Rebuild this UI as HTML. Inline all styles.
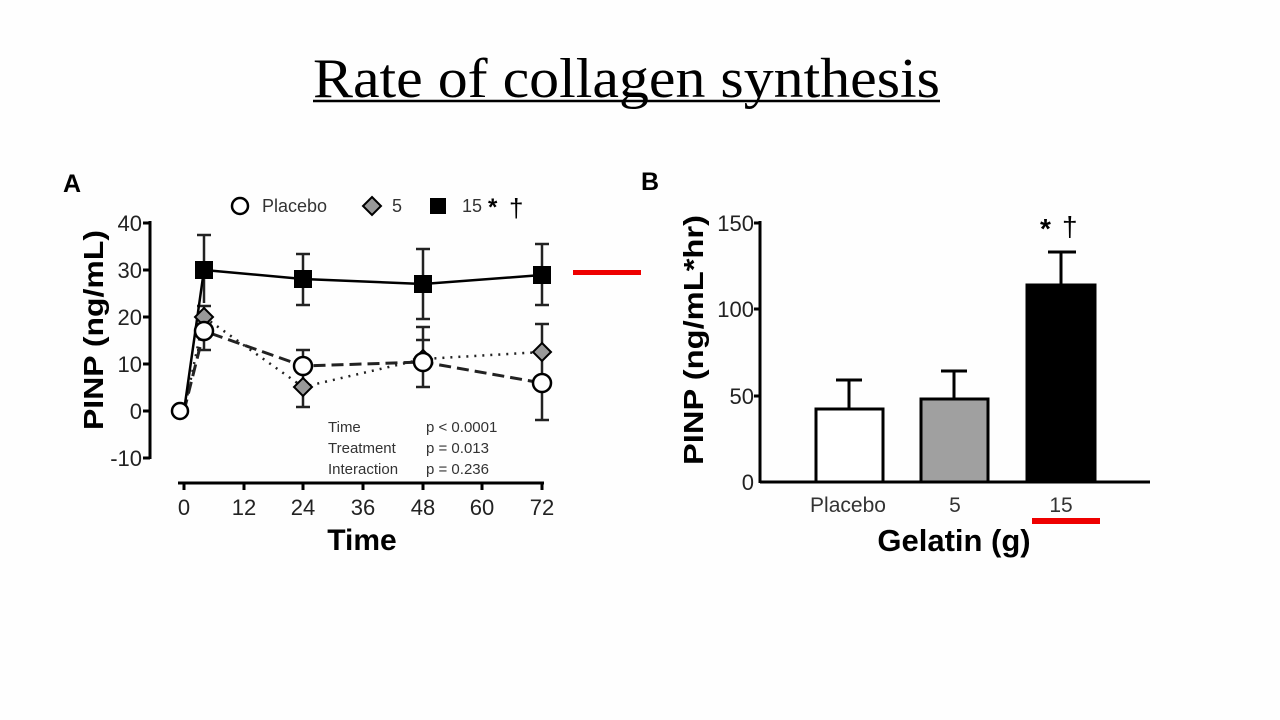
<!DOCTYPE html>
<html><head><meta charset="utf-8"><style>
body{margin:0;width:1280px;height:720px;background:#fefefe;overflow:hidden}
svg{position:absolute;left:0;top:0}
</style></head><body>
<svg width="1280" height="720" font-family="Liberation Sans, sans-serif">
<text x="313" y="97" font-family="Liberation Serif, serif" font-size="56" textLength="627" lengthAdjust="spacingAndGlyphs" fill="#000">Rate of collagen synthesis</text>
<line x1="313" y1="101" x2="940" y2="101" stroke="#000" stroke-width="2.5"/>
<!-- Chart A -->
<text x="63" y="192" font-size="25" font-weight="bold">A</text>
<g stroke="#000" stroke-width="3" fill="none">
<line x1="150" y1="221" x2="150" y2="459"/>
<line x1="143" y1="223" x2="150" y2="223"/><line x1="143" y1="270" x2="150" y2="270"/><line x1="143" y1="317" x2="150" y2="317"/><line x1="143" y1="364" x2="150" y2="364"/><line x1="143" y1="411" x2="150" y2="411"/><line x1="143" y1="458" x2="150" y2="458"/>
<line x1="178" y1="483" x2="544" y2="483"/>
<line x1="184" y1="483" x2="184" y2="490"/><line x1="244" y1="483" x2="244" y2="490"/><line x1="303" y1="483" x2="303" y2="490"/><line x1="363" y1="483" x2="363" y2="490"/><line x1="423" y1="483" x2="423" y2="490"/><line x1="482" y1="483" x2="482" y2="490"/><line x1="542" y1="483" x2="542" y2="490"/>
</g>
<g font-size="22" fill="#222" text-anchor="end">
<text x="142" y="231">40</text><text x="142" y="278">30</text><text x="142" y="325">20</text><text x="142" y="372">10</text><text x="142" y="419">0</text><text x="142" y="466">-10</text>
</g>
<g font-size="22" fill="#222" text-anchor="middle">
<text x="184" y="515">0</text><text x="244" y="515">12</text><text x="303" y="515">24</text><text x="363" y="515">36</text><text x="423" y="515">48</text><text x="482" y="515">60</text><text x="542" y="515">72</text>
</g>
<text x="362" y="550" font-size="30" font-weight="bold" text-anchor="middle">Time</text>
<text transform="translate(103,330) rotate(-90)" font-size="28" font-weight="bold" text-anchor="middle" textLength="200" lengthAdjust="spacingAndGlyphs">PINP (ng/mL)</text>
<g font-size="15" fill="#333"><text x="328" y="432">Time</text><text x="328" y="453">Treatment</text><text x="328" y="474">Interaction</text>
<text x="426" y="432">p &lt; 0.0001</text><text x="426" y="453">p = 0.013</text><text x="426" y="474">p = 0.236</text></g>
<!-- legend -->
<circle cx="240" cy="206" r="8" fill="#fff" stroke="#000" stroke-width="2.5"/>
<text x="262" y="212" font-size="18" fill="#333">Placebo</text>
<polygon points="372,197 381,206 372,215 363,206" fill="#999" stroke="#000" stroke-width="2"/>
<text x="392" y="212" font-size="18" fill="#333">5</text>
<rect x="430" y="198" width="16" height="16" fill="#000"/>
<text x="462" y="212" font-size="18" fill="#333">15</text>
<text x="488" y="215" font-size="24" font-weight="bold">*</text>
<text x="509" y="217" font-size="26">†</text>
<!-- error bars -->
<g stroke="#222" stroke-width="2.5">
<line x1="204" y1="235" x2="204" y2="303"/><line x1="197" y1="235" x2="211" y2="235"/>
<line x1="303" y1="254" x2="303" y2="305"/><line x1="296" y1="254" x2="310" y2="254"/><line x1="296" y1="305" x2="310" y2="305"/>
<line x1="423" y1="249" x2="423" y2="319"/><line x1="416" y1="249" x2="430" y2="249"/><line x1="416" y1="319" x2="430" y2="319"/>
<line x1="542" y1="244" x2="542" y2="305"/><line x1="535" y1="244" x2="549" y2="244"/><line x1="535" y1="305" x2="549" y2="305"/>
<line x1="204" y1="306" x2="204" y2="350"/><line x1="197" y1="306" x2="211" y2="306"/><line x1="197" y1="350" x2="211" y2="350"/>
<line x1="303" y1="350" x2="303" y2="407"/><line x1="296" y1="350" x2="310" y2="350"/><line x1="296" y1="407" x2="310" y2="407"/>
<line x1="423" y1="327" x2="423" y2="387"/><line x1="416" y1="327" x2="430" y2="327"/><line x1="416" y1="387" x2="430" y2="387"/><line x1="416" y1="340" x2="430" y2="340"/>
<line x1="542" y1="324" x2="542" y2="420"/><line x1="535" y1="324" x2="549" y2="324"/><line x1="535" y1="420" x2="549" y2="420"/>
</g>
<!-- lines -->
<polyline points="184,411 204,317 303,387 423,359 542,352" fill="none" stroke="#222" stroke-width="2.5" stroke-dasharray="2,6"/>
<polyline points="184,411 204,331 303,366 423,362 542,383" fill="none" stroke="#222" stroke-width="3" stroke-dasharray="12,6"/>
<polyline points="184,411 204,270 303,279 423,284 542,275" fill="none" stroke="#000" stroke-width="2.5"/>
<!-- markers -->
<g stroke="#000" stroke-width="2">
<polygon points="204,308 213,317 204,326 195,317" fill="#999"/>
<polygon points="303,378 312,387 303,396 294,387" fill="#999"/>
<polygon points="423,350 432,359 423,368 414,359" fill="#999"/>
<polygon points="542,343 551,352 542,361 533,352" fill="#999"/>
</g>
<g fill="#fff" stroke="#000" stroke-width="2.5">
<circle cx="180" cy="411" r="8"/><circle cx="204" cy="331" r="9"/><circle cx="303" cy="366" r="9"/><circle cx="423" cy="362" r="9"/><circle cx="542" cy="383" r="9"/>
</g>
<g fill="#000"><rect x="195" y="261" width="18" height="18"/><rect x="294" y="270" width="18" height="18"/><rect x="414" y="275" width="18" height="18"/><rect x="533" y="266" width="18" height="18"/></g>
<rect x="573" y="270" width="68" height="5" fill="#e00"/>
<!-- Chart B -->
<text x="641" y="190" font-size="25" font-weight="bold">B</text>
<g stroke="#000" stroke-width="3" fill="none">
<line x1="760" y1="221" x2="760" y2="483"/>
<line x1="760" y1="482" x2="1150" y2="482"/>
<line x1="754" y1="223" x2="760" y2="223"/><line x1="754" y1="309" x2="760" y2="309"/><line x1="754" y1="396" x2="760" y2="396"/>
</g>
<g font-size="22" fill="#222" text-anchor="end"><text x="754" y="231">150</text><text x="754" y="317">100</text><text x="754" y="404">50</text><text x="754" y="490">0</text></g>
<text transform="translate(703,340) rotate(-90)" font-size="28" font-weight="bold" text-anchor="middle" textLength="250" lengthAdjust="spacingAndGlyphs">PINP (ng/mL*hr)</text>
<g stroke="#000" stroke-width="3">
<line x1="849" y1="409" x2="849" y2="380"/><line x1="836" y1="380" x2="862" y2="380"/>
<line x1="954" y1="399" x2="954" y2="371"/><line x1="941" y1="371" x2="967" y2="371"/>
<line x1="1061" y1="285" x2="1061" y2="252"/><line x1="1048" y1="252" x2="1076" y2="252"/>
<rect x="816" y="409" width="67" height="73" fill="#fff"/>
<rect x="921" y="399" width="67" height="83" fill="#a0a0a0"/>
<rect x="1027" y="285" width="68" height="197" fill="#000"/>
</g>
<g font-size="21" fill="#333" text-anchor="middle"><text x="848" y="512">Placebo</text><text x="955" y="512">5</text><text x="1061" y="512">15</text></g>
<text x="954" y="551" font-size="31" font-weight="bold" text-anchor="middle">Gelatin (g)</text>
<text x="1040" y="238" font-size="28" font-weight="bold">*</text>
<text x="1062" y="236" font-size="28">†</text>
<rect x="1032" y="518" width="68" height="6" fill="#e00"/>
</svg>
</body></html>
